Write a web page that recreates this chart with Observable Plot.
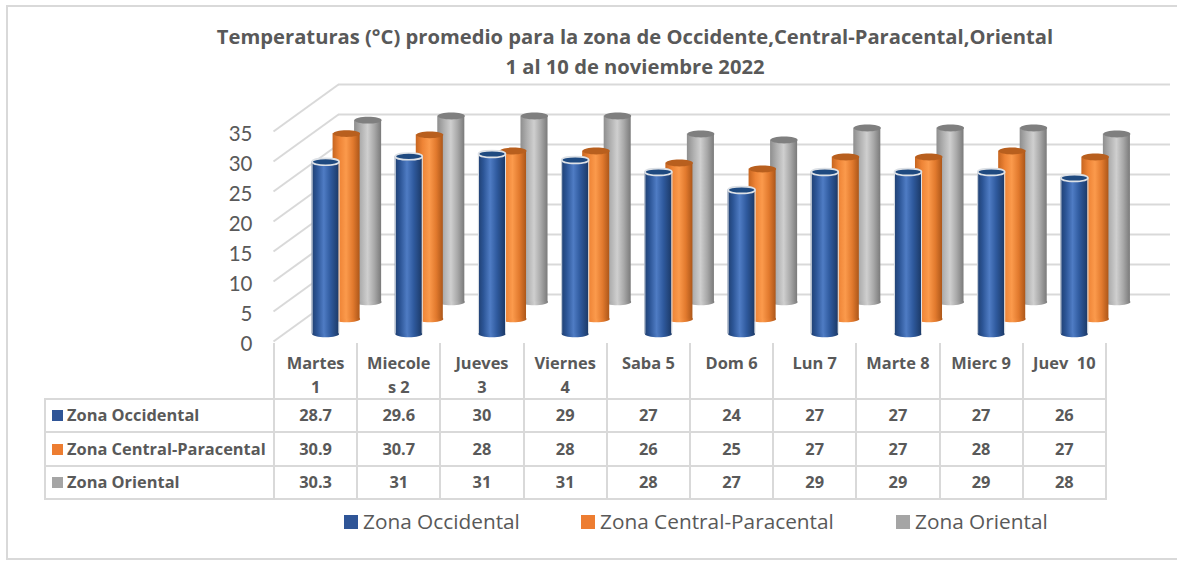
<!DOCTYPE html>
<html lang="es">
<head>
<meta charset="utf-8">
<script src="https://cdn.jsdelivr.net/npm/d3@7"></script>
<script src="https://cdn.jsdelivr.net/npm/@observablehq/plot@0.6"></script>
<style>
  html, body { margin: 0; padding: 0; background: #fff; overflow: hidden; }
  #page { position: relative; width: 1177px; height: 561px; overflow: hidden; color: #595959; font-family: Lato, sans-serif; }
  #frame { position: absolute; left: 6px; top: 5px; width: 1190px; height: 555px; border: 2px solid #d9d9d9; box-sizing: border-box; }
  #title { position: absolute; left: 135px; width: 1000px; top: 21px; text-align: center; font: bold 20.2px/30px "Open Sans", sans-serif; color: #595959; }
  #chart { position: absolute; left: 0; top: 80px; }
  #chart svg { display: block; overflow: visible; }
  table { position: absolute; left: 44px; top: 343px; border-collapse: collapse; table-layout: fixed; width: 1061px; font: bold 16.4px/24px "Open Sans", sans-serif; color: #595959; }
  td, th { border: 2px solid #d9d9d9; padding: 0; text-align: center; font-weight: bold; }
  thead th { border-top: none; height: 53px; vertical-align: top; padding-top: 8px; box-sizing: border-box; white-space: pre; line-height: 23.5px; }
  thead th:first-child { border: none; border-bottom: 2px solid #d9d9d9; }
  tbody td { height: 33.4px; box-sizing: border-box; padding-bottom: 1px; }
  tbody td:first-child { text-align: left; padding-left: 6px; white-space: nowrap; }
  .key { display: inline-block; width: 11px; height: 11px; margin-right: 4px; }
  #legend span.item { position: absolute; top: 507px; font: 20.8px/28px "Open Sans", sans-serif; color: #595959; white-space: nowrap; }
  #legend .sw { position: absolute; left: -19px; top: 8px; width: 14px; height: 14px; }
</style>
</head>
<body>
<div id="page">
  <div id="frame"></div>
  <div id="title">Temperaturas (°C) promedio para la zona de Occidente,Central-Paracental,Oriental<br>1 al 10 de noviembre 2022</div>
  <div id="chart"></div>
  <table id="tbl"></table>
  <div id="legend"></div>
</div>
<script>
const categories = ["Martes\n1", "Miecole\ns 2", "Jueves\n3", "Viernes\n4", "Saba 5", "Dom 6", "Lun 7", "Marte 8", "Mierc 9", "Juev  10"];
const occidental = [28.7, 29.6, 30, 29, 27, 24, 27, 27, 27, 26];
const central    = [30.9, 30.7, 28, 28, 26, 25, 27, 27, 28, 27];
const oriental   = [30.3, 31, 31, 31, 28, 27, 29, 29, 29, 28];
const yTicks = [0, 5, 10, 15, 20, 25, 30, 35];

const series = [
  {name: "Zona Occidental", values: occidental, key: "#2f5597", id: "gBlue", top: "#1f4a80", dx: 10.5, dy: -7.5,
   stops: [[0, "#1f3f70"], [0.2, "#2c5596"], [0.45, "#4f7cc4"], [0.7, "#2f5a9e"], [1, "#1c3a68"]]},
  {name: "Zona Central-Paracental", values: central, key: "#ed7d31", id: "gOrange", top: "#b85f1e", dx: 31.5, dy: -22.5,
   stops: [[0, "#c7651f"], [0.25, "#ee8436"], [0.5, "#fb9a4c"], [0.75, "#e27a2e"], [1, "#ad5719"]]},
  {name: "Zona Oriental", values: oriental, key: "#a5a5a5", id: "gGray", top: "#7f7f7f", dx: 53, dy: -39.5,
   stops: [[0, "#8e8e8e"], [0.25, "#b0b0b0"], [0.5, "#cfcfcf"], [0.75, "#a8a8a8"], [1, "#7a7a7a"]]}
];

const barW = 0.325;              // cylinder width, in category units
const wall = {dx: 65, dy: -47};  // how far the back wall sits behind the front plane
const wallX = 65 / 83.2, wallY = 47 / 6;

const ellipse = (ry) => ({
  draw(c) {
    const rx = 13.5, k = 0.5523;
    c.moveTo(-rx, 0);
    c.bezierCurveTo(-rx, -ry * k, -rx * k, -ry, 0, -ry);
    c.bezierCurveTo(rx * k, -ry, rx, -ry * k, rx, 0);
    c.bezierCurveTo(rx, ry * k, rx * k, ry, 0, ry);
    c.bezierCurveTo(-rx * k, ry, -rx, ry * k, -rx, 0);
    c.closePath();
  }
});

function defs() {
  const d = d3.create("svg:defs");
  for (const s of series) {
    const g = d.append("linearGradient").attr("id", s.id).attr("x1", 0).attr("x2", 1).attr("y1", 0).attr("y2", 0);
    for (const [o, c] of s.stops) g.append("stop").attr("offset", o).attr("stop-color", c);
  }
  return d.node();
}

function cylinder(s) {
  const rows = categories.map((day, i) => ({i, day, value: s.values[i]}));
  const shift = {dx: s.dx, dy: s.dy};
  const edge = s.id === "gBlue" ? "#dde1e6" : "none";
  const marks = [
    Plot.dot(rows, {x: d => d.i + 0.5, y: () => 0, symbol: ellipse(3.2), fill: `url(#${s.id})`, ...shift}),
    Plot.rect(rows, {x1: d => d.i + 0.5 - barW / 2, x2: d => d.i + 0.5 + barW / 2, y1: () => 0, y2: "value", fill: `url(#${s.id})`, ...shift})
  ];
  if (s.id === "gBlue") {
    for (const side of [-1, 1]) {
      marks.push(Plot.ruleX(rows, {x: d => d.i + 0.5 + side * barW / 2, y1: () => 0, y2: "value", stroke: edge, strokeWidth: 1, ...shift}));
    }
  }
  marks.push(Plot.dot(rows, {x: d => d.i + 0.5, y: "value", symbol: ellipse(3.4), fill: s.top, stroke: edge, strokeWidth: 1.6, ...shift}));
  return marks;
}

const plot = Plot.plot({
  width: 1177,
  height: 265,
  marginLeft: 273,
  marginRight: 72,
  marginTop: 51,
  marginBottom: 4,
  style: {background: "transparent", color: "#595959", fontFamily: "Lato, sans-serif"},
  x: {type: "linear", domain: [0, categories.length], axis: null},
  y: {domain: [0, 35], axis: null},
  marks: [
    defs,
    Plot.ruleY(yTicks, {stroke: "#d9d9d9", strokeWidth: 2, ...wall}),
    Plot.link(yTicks, {x1: () => 0, y1: d => d, x2: () => wallX, y2: d => d + wallY, stroke: "#d9d9d9", strokeWidth: 2, markerEnd: "none"}),
    Plot.axisY({ticks: yTicks, tickSize: 0, tickPadding: 21, fontSize: 20.5, label: null, fill: "#595959", dy: 2.5}),
    ...cylinder(series[2]),
    ...cylinder(series[1]),
    ...cylinder(series[0])
  ]
});
document.getElementById("chart").append(plot);

// data table under the chart
const tbl = d3.select("#tbl");
const cols = tbl.append("colgroup");
cols.append("col").style("width", "229px");
categories.forEach(() => cols.append("col").style("width", "83.2px"));
const head = tbl.append("thead").append("tr");
head.append("th");
categories.forEach(c => head.append("th").text(c));
const body = tbl.append("tbody");
series.forEach(s => {
  const tr = body.append("tr");
  const first = tr.append("td");
  first.append("span").attr("class", "key").style("background", s.key);
  first.append("span").text(s.name);
  s.values.forEach(v => tr.append("td").text(v));
});

// legend
const legendLeft = [363, 600, 915];
const legend = d3.select("#legend");
series.forEach((s, i) => {
  const it = legend.append("span").attr("class", "item").style("left", legendLeft[i] + "px");
  it.append("span").attr("class", "sw").style("background", s.key);
  it.append("span").text(s.name);
});
</script>
</body>
</html>
